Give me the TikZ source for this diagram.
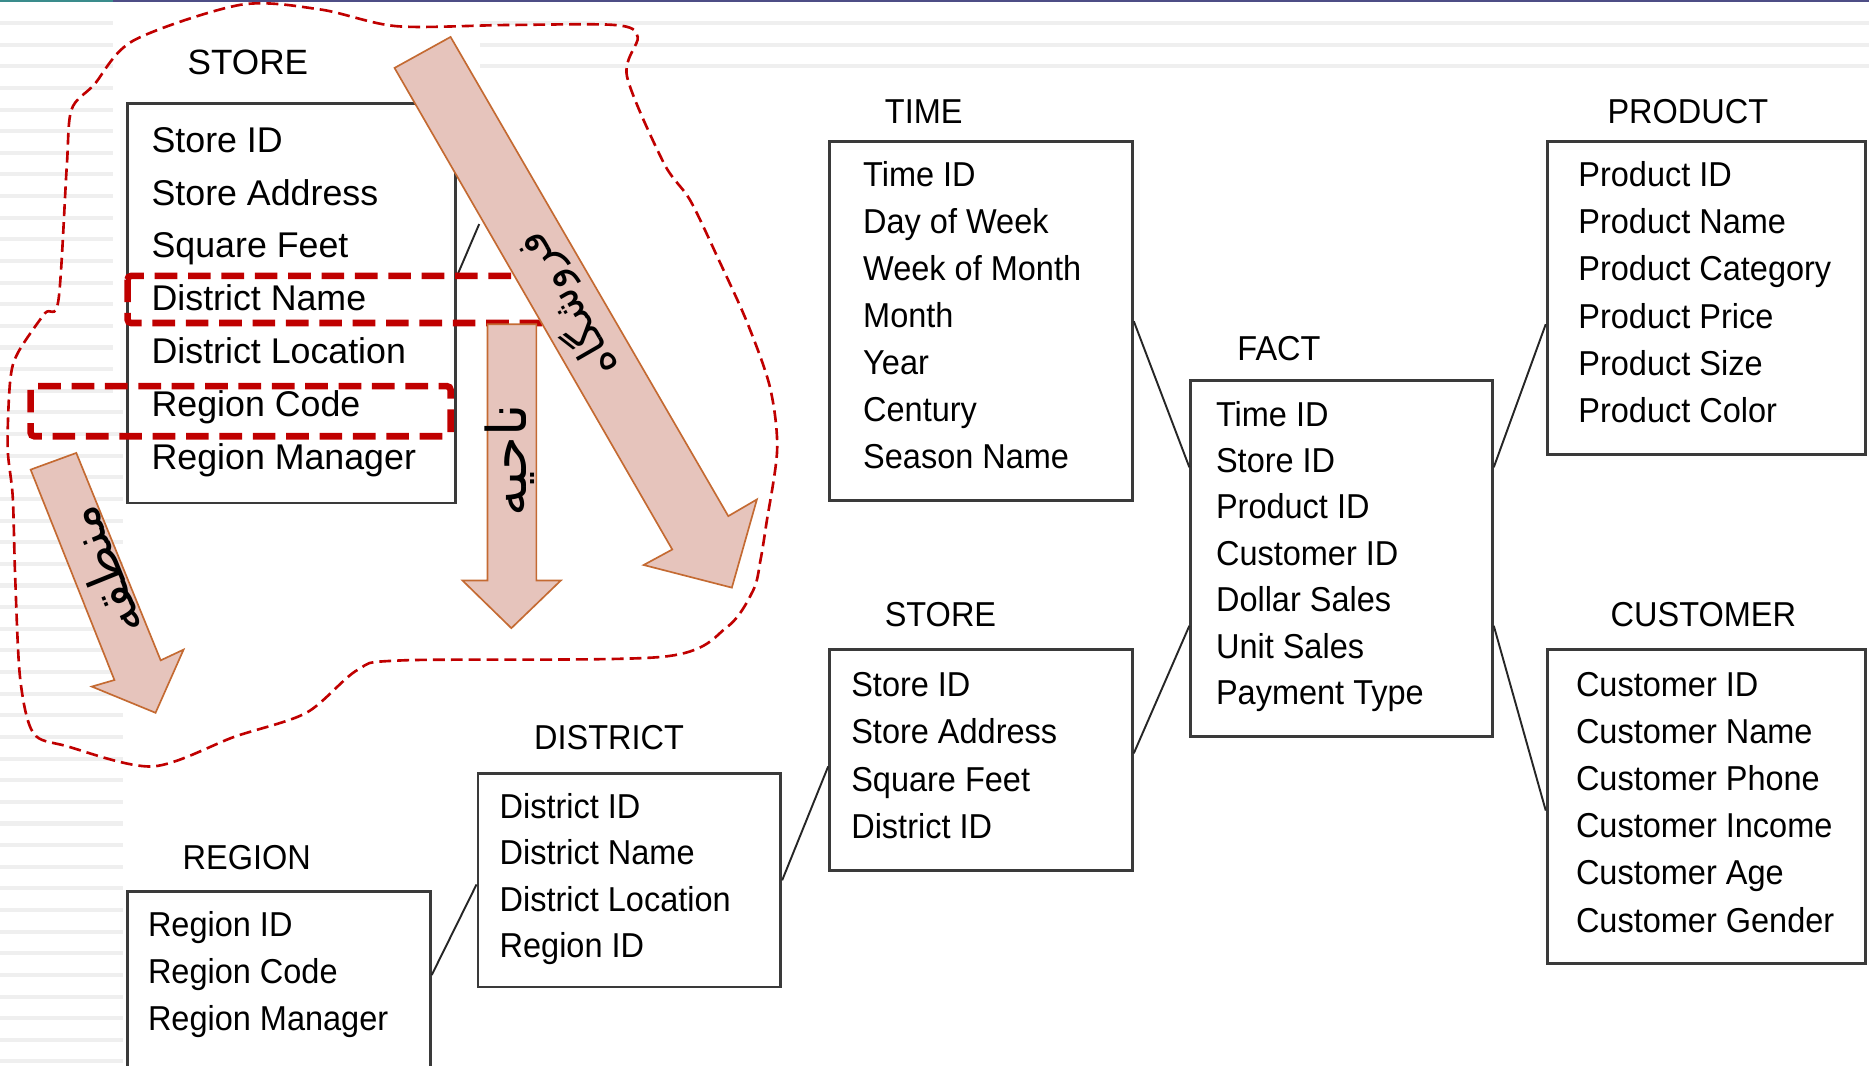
\documentclass[tikz,border=0pt]{standalone}
\usepackage{fontspec}
\setmainfont{Liberation Sans}
\newfontfamily\fafont[Script=Arabic]{DejaVu Sans}
\TeXXeTstate=1
\definecolor{hlred}{HTML}{C00000}
\definecolor{arrfill}{HTML}{E6C4BC}
\definecolor{arrline}{HTML}{C46A32}
\definecolor{stripe}{HTML}{EFEFEF}
\definecolor{topteal}{HTML}{3A8C8C}
\definecolor{topslate}{HTML}{4E4E86}
\definecolor{boxline}{HTML}{3A3A3A}
\begin{document}
\begin{tikzpicture}[x=1pt,y=-1pt,
  tbl/.style={draw=boxline, line width=2.4pt, inner sep=0pt},
  fld/.style={anchor=base west, inner sep=0pt, font=\fontsize{29}{34}\selectfont, xscale=0.94},
  ttl/.style={anchor=base, inner sep=0pt, font=\fontsize{29}{34}\selectfont, xscale=0.94},
  fldone/.style={anchor=base west, inner sep=0pt, font=\fontsize{30}{36}\selectfont},
  ttlone/.style={anchor=base, inner sep=0pt, font=\fontsize{29.5}{36}\selectfont},
  link/.style={draw=black!85, line width=1.6pt},
  hlbox/.style={draw=hlred, line width=5.5pt, dash pattern=on 19pt off 9pt, rounded corners=3pt},
  looppath/.style={draw=hlred, line width=2.2pt, dash pattern=on 10pt off 5pt},
  fatarrow/.style={fill=arrfill, draw=arrline, line width=1.4pt, line join=miter},
  falabel/.style={inner sep=0pt, font=\fafont\fontsize{36}{42}\selectfont}
]
\useasboundingbox (0,0) rectangle (1568,893.5);
\clip (0,0) rectangle (1568,893.5);
\fill[white] (0,0) rectangle (1568,893.5);
% background stripes
\foreach \k in {0,...,17} \fill[stripe] (0,{17.6+18.15*\k}) rectangle (95,{21+18.15*\k});
\foreach \k in {18,...,48} \fill[stripe] (0,{17.6+18.15*\k}) rectangle (103,{21+18.15*\k});
\foreach \k in {0,1,2} \fill[stripe] (403,{17.6+18.15*\k}) rectangle (1568,{21+18.15*\k});
\fill[topteal] (0,0) rectangle (95,1.8);
\fill[topslate] (95,0) rectangle (1568,1.8);

% ---------- left STORE table ----------
\node[ttlone] (store1-title) at (208,62.5) {STORE};
\node[tbl, minimum width=275pt, minimum height=335pt] (store1) at (244.5,254.5) {};
\foreach \t [count=\i from 0] in {Store ID, Store Address, Square Feet, District Name, District Location, Region Code, Region Manager}
  \node[fldone] (store1-\i) at (127,{127.7+44.3*\i}) {\t};
\coordinate (s1end) at (402,188);
\draw[link] ([yshift=22.5pt]store1.east) -- (s1end);

% ---------- star schema ----------
\node[ttl] (time-title) at (775,103.4) {TIME};
\node[tbl, minimum width=254pt, minimum height=301pt] (time) at (823,269.5) {};
\foreach \t [count=\i from 0] in {Time ID, Day of Week, Week of Month, Month, Year, Century, Season Name}
  \node[fld] (time-\i) at (724,{156.4+39.5*\i}) {\t};

\node[ttl] (prod-title) at (1416,103.4) {PRODUCT};
\node[tbl, minimum width=267pt, minimum height=262pt] (prod) at (1431.5,250) {};
\foreach \t [count=\i from 0] in {Product ID, Product Name, Product Category, Product Price, Product Size, Product Color}
  \node[fld] (prod-\i) at (1324,{156.4+39.6*\i}) {\t};

\node[ttl] (fact-title) at (1073,302.4) {FACT};
\node[tbl, minimum width=253pt, minimum height=299pt] (fact) at (1125.5,468.5) {};
\foreach \t [count=\i from 0] in {Time ID, Store ID, Product ID, Customer ID, Dollar Sales, Unit Sales, Payment Type}
  \node[fld] (fact-\i) at (1020,{357.4+39*\i}) {\t};

\node[ttl] (store-title) at (789,525.4) {STORE};
\node[tbl, minimum width=254pt, minimum height=185pt] (store) at (823,637.5) {};
\foreach \t [count=\i from 0] in {Store ID, Store Address, Square Feet, District ID}
  \node[fld] (store-\i) at (714,{584.4+39.7*\i}) {\t};

\node[ttl] (cust-title) at (1429,525.4) {CUSTOMER};
\node[tbl, minimum width=267pt, minimum height=263pt] (cust) at (1431.5,676.5) {};
\foreach \t [count=\i from 0] in {Customer ID, Customer Name, Customer Phone, Customer Income, Customer Age, Customer Gender}
  \node[fld] (cust-\i) at (1322,{584.4+39.5*\i}) {\t};

\node[ttl] (dist-title) at (511,628.4) {DISTRICT};
\node[tbl, minimum width=254pt, minimum height=179pt] (dist) at (528,738.5) {};
\foreach \t [count=\i from 0] in {District ID, District Name, District Location, Region ID}
  \node[fld] (dist-\i) at (419,{686.4+39*\i}) {\t};

\node[ttl] (reg-title) at (207,729.4) {REGION};
\node[tbl, minimum width=254pt, minimum height=152pt] (reg) at (234,824) {};
\foreach \t [count=\i from 0] in {Region ID, Region Code, Region Manager}
  \node[fld] (reg-\i) at (124,{785.4+39.5*\i}) {\t};

% connectors
\draw[link] (time.east) -- ([yshift=76.5pt]fact.west);
\draw[link] ([yshift=-22pt]prod.west) -- ([yshift=76.5pt]fact.east);
\draw[link] ([yshift=5.5pt]store.east) -- ([yshift=-56.5pt]fact.west);
\draw[link] ([yshift=-3.5pt]cust.west) -- ([yshift=-56.5pt]fact.east);
\draw[link] (dist.east) -- ([yshift=-5.5pt]store.west);
\draw[link] ([yshift=6pt]reg.east) -- ([yshift=-3.5pt]dist.west);

% ---------- annotations ----------
\draw[hlbox] (107,231.5) rectangle (470,271);
\draw[hlbox] (25.7,324) rectangle (378,366);

\draw[fatarrow] (331,57) -- (378,31) -- (611,433) -- (635,419) -- (614,493) -- (540,474) -- (564,461) -- cycle;
\draw[fatarrow] (409,272) -- (450,272) -- (450,487) -- (470.5,487) -- (429,527) -- (388,487) -- (409,487) -- cycle;
\draw[fatarrow] (25.7,394) -- (64,380) -- (134.8,554) -- (154,545) -- (130.5,598) -- (77,576) -- (96,570.5) -- cycle;

\node[falabel, rotate=120] (lbl-store) at (476,256) {\beginR فروشگاه\endR};
\node[falabel, rotate=90, font=\fafont\fontsize{46}{52}\selectfont] (lbl-dist) at (428,386) {\beginR ناحیه\endR};
\node[falabel, rotate=112, font=\fafont\fontsize{42}{48}\selectfont] (lbl-reg) at (86,480) {\beginR منطقه\endR};

\draw[looppath] plot[smooth cycle, tension=0.5] coordinates {
  (202,4) (269,8) (333,22) (425,21) (516,21) (535,31) (526,64) (557,137) (579,168)
  (603,218) (627,271) (646,325) (652,377) (643,439) (638,470) (632,495) (610,526)
  (556,551) (338,554) (300,562) (257,598) (197,618) (128,643) (56,626) (28,615)
  (17,570) (12.8,486) (10.7,417) (6.4,375) (8.6,319) (15,296) (37.5,263) (49,252)
  (56,140) (60,92) (79,71) (112,34)};
\end{tikzpicture}
\end{document}
